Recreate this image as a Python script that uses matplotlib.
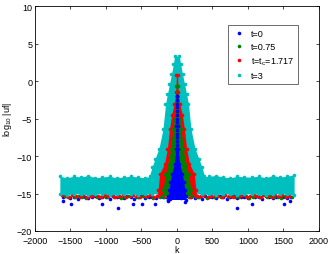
import numpy as np
import matplotlib.pyplot as plt
from matplotlib.lines import Line2D

plt.rcParams['font.family'] = ['Liberation Sans', 'DejaVu Sans']
plt.rcParams['mathtext.fontset'] = 'custom'
plt.rcParams['mathtext.rm'] = 'Liberation Sans'
plt.rcParams['mathtext.it'] = 'Liberation Sans'

# series colours (matlab defaults)
c_b, c_g, c_r, c_c = (0, 0, 1), (0, 0.5, 0), (1, 0, 0), (0, 0.75, 0.75)
labels = ['t=0', 't=0.75', 't=t$_c$=1.717', 't=3']

# noise floor, sampled every 100 in k
floor_k = np.arange(-1650, 1651, 100)
cyan_top = [-12.7, -12.9, -12.7, -12.8, -12.6, -12.9, -12.8, -12.7, -12.9, -12.8, -12.7, -12.8,
            -12.9, -12.7, -12.8, -12.6, -12.8, -12.8, -12.7, -12.9, -12.8, -12.7, -12.6, -12.8,
            -12.9, -12.7, -12.8, -12.8, -12.7, -12.9, -12.6, -12.8, -12.7, -12.5]
cyan_bot = [-15.1, -15.2, -15.0, -15.1, -15.2, -15.1, -15.0, -15.2, -15.1, -15.1, -15.0, -15.2,
            -15.1, -15.0, -15.1, -15.2, -15.1, -15.1, -15.2, -15.0, -15.1, -15.1, -15.2, -15.0,
            -15.1, -15.2, -15.1, -15.0, -15.1, -15.2, -15.1, -15.0, -15.1, -15.2]

# points just under the cyan band
under_k = np.arange(-1600, 1601, 50)
under_b = [-15.5, -15.3, -15.6, -15.4, -15.7, -15.3, -15.5, -15.6, -15.4, -15.3, -15.6, -15.5,
           -15.4, -15.7, -15.3, -15.5, -15.4, -15.6, -15.3, -15.5, -15.7, -15.4, -15.3, -15.6,
           -15.5, -15.4, -15.6, -15.3, -15.5, -15.4, -15.7, -15.3, -15.5, -15.6, -15.4, -15.3,
           -15.5, -15.6, -15.4, -15.7, -15.3, -15.5, -15.4, -15.6, -15.3, -15.5, -15.7, -15.4,
           -15.3, -15.6, -15.5, -15.4, -15.6, -15.3, -15.5, -15.4, -15.7, -15.3, -15.5, -15.6,
           -15.4, -15.3, -15.5, -15.6, -15.4]
under_g = [-15.3, -15.4, -15.2, -15.5, -15.3, -15.4, -15.6, -15.3, -15.2, -15.4, -15.5, -15.3,
           -15.4, -15.2, -15.5, -15.3, -15.6, -15.4, -15.3, -15.2, -15.4, -15.5, -15.3, -15.4,
           -15.2, -15.6, -15.3, -15.4, -15.5, -15.2, -15.3, -15.4, -15.3, -15.5, -15.2, -15.4,
           -15.3, -15.5, -15.4, -15.2, -15.6, -15.3, -15.4, -15.3, -15.5, -15.2, -15.4, -15.3,
           -15.5, -15.4, -15.2, -15.3, -15.6, -15.4, -15.3, -15.5, -15.2, -15.4, -15.3, -15.5,
           -15.4, -15.6, -15.3, -15.2, -15.4]
under_r = [-15.2, -15.3, -15.4, -15.2, -15.3, -15.5, -15.2, -15.4, -15.3, -15.2, -15.3, -15.4,
           -15.2, -15.3, -15.2, -15.4, -15.3, -15.2, -15.5, -15.3, -15.2, -15.3, -15.4, -15.2,
           -15.3, -15.2, -15.4, -15.3, -15.2, -15.3, -15.5, -15.2, -15.3, -15.4, -15.3, -15.2,
           -15.4, -15.2, -15.3, -15.3, -15.2, -15.4, -15.3, -15.2, -15.3, -15.5, -15.2, -15.3,
           -15.4, -15.2, -15.3, -15.2, -15.4, -15.3, -15.2, -15.3, -15.5, -15.2, -15.3, -15.4,
           -15.2, -15.3, -15.2, -15.4, -15.3]

# lone low points of t=0
out_k = [-1605, -1493, -1056, -831, -620, -493, -310, -120, 110, 845, 1056, 1507, 1591]
out_v = [-16.0, -16.4, -16.4, -16.9, -16.4, -16.4, -16.4, -16.0, -16.1, -16.9, -16.4, -16.4, -16.0]

# central peaks: level and half width in k
cyan_lev = [3.3, 2.3, 0.9, -0.4, -1.7, -3.1, -6.4, -9.0, -10.4, -11.5, -12.6, -13.0]
cyan_hw = [35, 50, 78, 106, 134, 162, 197, 254, 310, 352, 385, 420]
red_lev = [0.8, -1.5, -3.0, -4.5, -6.4, -9.0, -11.0, -12.4, -14.5, -15.3]
red_hw = [8, 18, 38, 75, 105, 135, 175, 245, 265, 275]
green_lev = [-0.7, -3.0, -5.0, -6.4, -9.0, -11.0, -12.4, -14.5, -15.3]
green_hw = [8, 18, 38, 58, 90, 118, 165, 195, 205]
blue_lev = [-2.0, -6.0, -9.0, -11.0, -12.4, -13.5, -14.5, -15.3, -15.8]
blue_hw = [5, 8, 15, 35, 75, 95, 110, 125, 130]
blue_col = [-2.0, -2.5, -3.0, -3.5, -4.0, -4.5, -5.0, -5.5, -6.0, -6.5, -7.0, -7.5, -8.0,
            -8.5, -9.0, -9.5, -10.0, -10.5, -11.0, -11.5, -12.0, -12.5, -13.0, -13.5, -14.0]

fig = plt.figure(figsize=(3.32, 2.55), dpi=100)
ax = fig.add_axes([0.1054, 0.0902, 0.8554, 0.8823])

ms = 2.6
ax.plot(out_k, out_v, 'o', color=c_b, ms=ms, mew=0, zorder=1)
ax.plot(under_k, under_b, 'o', color=c_b, ms=ms, mew=0, zorder=1)
ax.plot(under_k + 17, under_g, 'o', color=c_g, ms=ms, mew=0, zorder=1)
ax.plot(under_k - 17, under_r, 'o', color=c_r, ms=ms, mew=0, zorder=1)

ax.fill_between(floor_k, cyan_bot, cyan_top, color=c_c, lw=0, zorder=2)
ax.plot(floor_k, cyan_top, 'o', color=c_c, ms=ms, mew=0, zorder=2)
ax.plot(floor_k, cyan_bot, 'o', color=c_c, ms=ms, mew=0, zorder=2)

z = 3
for lev, hw, col in [(cyan_lev, cyan_hw, c_c), (red_lev, red_hw, c_r),
                     (green_lev, green_hw, c_g), (blue_lev, blue_hw, c_b)]:
    hw = np.array(hw)
    ax.fill_betweenx(lev, -hw, hw, color=col, lw=0, zorder=z)
    ax.plot(hw, lev, 'o', color=col, ms=ms, mew=0, zorder=z)
    ax.plot(-hw, lev, 'o', color=col, ms=ms, mew=0, zorder=z)
    z += 1
ax.plot(np.zeros(len(blue_col)), blue_col, 'o', color=c_b, ms=ms, mew=0, zorder=z)

ax.set_xlim(-2000, 2000)
ax.set_ylim(-20, 10)
ax.set_xticks(np.arange(-2000, 2001, 500))
ax.set_yticks(np.arange(-20, 11, 5))
ax.tick_params(direction='in', top=True, right=True, length=2.5, width=0.5,
               labelsize=6.5, pad=2)
ax.tick_params(axis='x', pad=3.5)
for s in ax.spines.values():
    s.set_linewidth(0.6)
ax.set_xlabel('k', fontsize=6.5, labelpad=0)
ax.set_ylabel('log$_{10}$ |uf|', fontsize=6.5, labelpad=2)

handles = [Line2D([], [], ls='none', marker='o', ms=2.6, mew=0, color=c)
           for c in (c_b, c_g, c_r, c_c)]
leg = ax.legend(handles, labels, loc='upper left', bbox_to_anchor=(0.68, 0.915),
                fontsize=6.5, frameon=True, fancybox=False, borderpad=0.45,
                labelspacing=0.45, handlelength=1.5, handletextpad=0.6, borderaxespad=0)
leg.get_frame().set_edgecolor('black')
leg.get_frame().set_linewidth(0.5)

fig.savefig('out.png', dpi=100)
